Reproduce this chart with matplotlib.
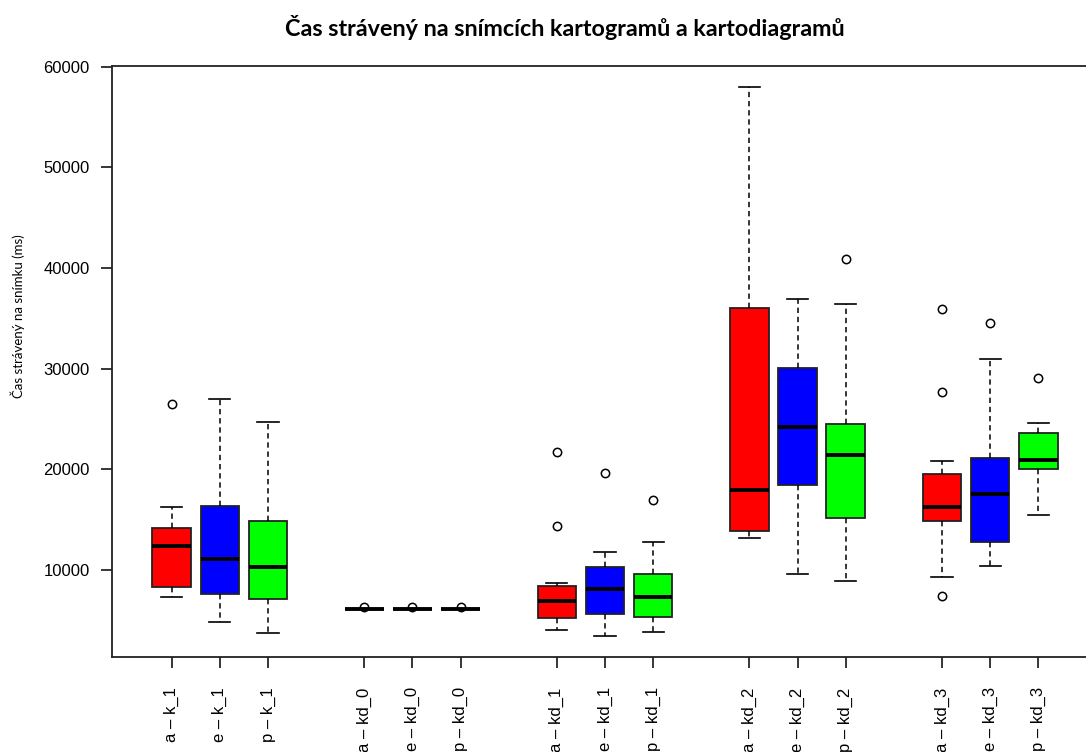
import matplotlib
matplotlib.use('Agg')
import matplotlib.pyplot as plt

# box statistics (ms)
labels = ['a – k_1', 'e – k_1', 'p – k_1',
          'a – kd_0', 'e – kd_0', 'p – kd_0',
          'a – kd_1', 'e – kd_1', 'p – kd_1',
          'a – kd_2', 'e – kd_2', 'p – kd_2',
          'a – kd_3', 'e – kd_3', 'p – kd_3']
positions = [1, 2, 3, 5, 6, 7, 9, 10, 11, 13, 14, 15, 17, 18, 19]
whislo = [7350, 4830, 3710, 6100, 6100, 6100, 4000, 3440, 3840,
          13180, 9570, 8880, 9270, 10400, 15440]
q1 = [8280, 7610, 7150, 6100, 6100, 6100, 5200, 5630, 5330,
      13880, 18450, 15140, 14840, 12750, 20040]
med = [12350, 11090, 10270, 6100, 6100, 6100, 6920, 8140, 7320,
       17950, 24190, 21430, 16260, 17530, 20900]
q3 = [14180, 16390, 14870, 6100, 6100, 6100, 8440, 10300, 9600,
      36070, 30080, 24480, 19570, 21130, 23650]
whishi = [16290, 27000, 24740, 6100, 6100, 6100, 8710, 11790, 12780,
          57980, 36910, 36470, 20870, 30940, 24640]
fliers = [[26470], [], [],
          [6320], [6320], [6320],
          [21700, 14370], [19610], [16960],
          [], [], [40940],
          [35880, 27720, 7390], [34580], [29060]]
colors = ['#ff0000', '#0000ff', '#00ff00'] * 5

plt.rcParams['font.family'] = ['Liberation Sans', 'DejaVu Sans']

fig = plt.figure(figsize=(10.86, 7.52), dpi=100)
ax = fig.add_axes([112 / 1086, 95.3 / 752, 986 / 1086, 591 / 752])

stats = []
for i in range(len(labels)):
    stats.append({'label': labels[i], 'whislo': whislo[i], 'q1': q1[i],
                  'med': med[i], 'q3': q3[i], 'whishi': whishi[i],
                  'fliers': fliers[i]})

bp = ax.bxp(stats, positions=positions, widths=0.8, capwidths=0.44,
            patch_artist=True, showfliers=True,
            boxprops=dict(edgecolor='#222222', linewidth=1.3),
            medianprops=dict(color='black', linewidth=2.8),
            whiskerprops=dict(color='black', linewidth=1.1,
                              linestyle=(0, (3.5, 2.5))),
            capprops=dict(color='black', linewidth=1.2),
            flierprops=dict(marker='o', markerfacecolor='none',
                            markeredgecolor='black', markersize=6,
                            markeredgewidth=1.1))
for patch, c in zip(bp['boxes'], colors):
    patch.set_facecolor(c)

ax.set_xlim(-0.24, 20.24)
ax.set_ylim(1380, 60100)
ax.set_yticks([10000, 20000, 30000, 40000, 50000, 60000])
ax.set_yticklabels(['10000', '20000', '30000', '40000', '50000', '60000'])
ax.set_xticks(positions)
ax.set_xticklabels(labels, rotation=90)
ax.tick_params(axis='x', length=8, width=1.1, pad=14, labelsize=12)
ax.tick_params(axis='y', length=8, width=1.1, pad=8, labelsize=12)
ax.spines['right'].set_visible(False)
for s in ax.spines.values():
    s.set_linewidth(1.3)
    s.set_color('#222222')

fig.text(565 / 1086, 1 - 28 / 752,
         'Čas strávený na snímcích kartogramů a kartodiagramů',
         ha='center', va='center', fontsize=16.8, fontweight='bold',
         family=['Lato', 'DejaVu Sans'])
fig.text(18 / 1086, 1 - 316 / 752, 'Čas strávený na snímku (ms)',
         rotation=90, ha='center', va='center', fontsize=9.5,
         family=['Lato', 'DejaVu Sans'])

fig.savefig('out.png', dpi=100, bbox_inches=None, facecolor='white')
